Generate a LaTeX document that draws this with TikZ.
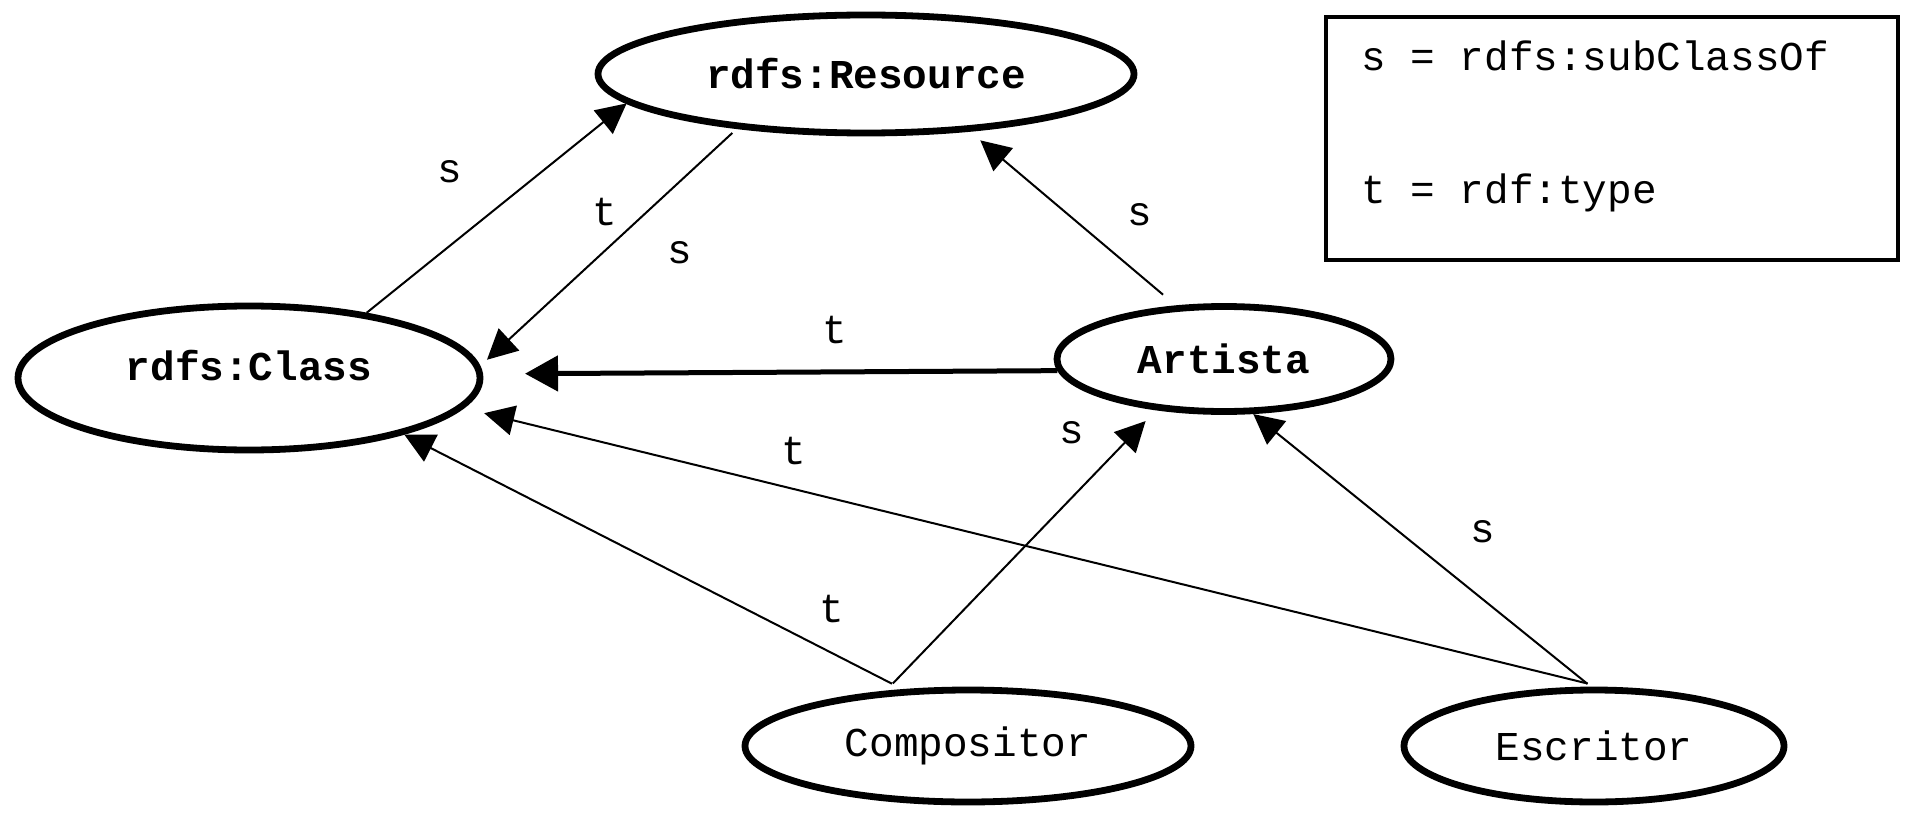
\documentclass[tikz,border=0pt]{standalone}
\usepackage{fontspec}
\setmainfont{Liberation Mono}
\usetikzlibrary{arrows.meta,shapes.geometric}
\begin{document}
\begin{tikzpicture}[x=0.5pt, y=-0.5pt,
  every node/.style={font=\fontsize{20.5}{24}\selectfont},
  boldtext/.style={font=\fontsize{20.5}{24}\selectfont\bfseries},
  oval/.style={ellipse, draw, line width=3.4pt, inner sep=0pt},
  lbl/.style={anchor=base, inner sep=0pt},
  conn/.style={line width=1pt, -{Triangle[length=15pt,width=15pt]}},
  thickconn/.style={line width=2.5pt, -{Triangle[length=16.5pt,width=17.5pt]}},
]
\useasboundingbox (0,0) rectangle (1906,813);

% nodes
\node[oval, boldtext, minimum width=268pt, minimum height=59pt] (res) at (866,74) {rdfs:Resource};
\node[oval, boldtext, minimum width=231pt, minimum height=72pt, text height=15pt, text depth=13pt] (cls) at (249,378) {rdfs:Class};
\node[oval, boldtext, minimum width=167pt, minimum height=52.5pt] (art) at (1224,359) {Artista};
\node[oval, minimum width=223pt, minimum height=56pt] (comp) at (968,746) {Compositor};
\node[oval, minimum width=190pt, minimum height=56pt] (esc) at (1594,746) {Escritor};

% legend
\node[draw, line width=2.25pt, minimum width=286pt, minimum height=121.5pt, inner sep=0pt, outer sep=0pt] (legend) at (1612,138.5) {};
\node[anchor=base west, inner sep=0pt] (legs) at (1361,71) {s = rdfs:subClassOf};
\node[anchor=base west, inner sep=0pt] (legt) at (1361,203) {t = rdf:type};

% connectors
\draw[conn] (cls.29) -- (res.187.5);
\draw[conn, shorten <=3pt, shorten >=4.5pt] (res.203.7) -- (cls.3.7);
\draw[conn, shorten <=8.3pt, shorten >=6.75pt] (art.132.3) -- (res.331.7);
\draw[thickconn, shorten >=21pt] (art.184.1) -- (cls.1.5);
\draw[conn, shorten <=6pt] (comp.139.1) -- (cls.340.8);
\draw[conn, shorten <=5pt, shorten >=7.5pt] (comp.146.5) -- (art.217.5);
\draw[conn, shorten <=6.5pt, shorten >=10.5pt] (esc.84.6) -- (cls.352.3);
\draw[conn, shorten <=2.25pt] (esc.93.4) -- (art.298.6);

% labels
\node[lbl] (ls1) at (450,183) {s};
\node[lbl] (lt2) at (605,225) {t};
\node[lbl] (ls2) at (680,263) {s};
\node[lbl] (ls3) at (1140,225) {s};
\node[lbl] (lt4) at (835,343) {t};
\node[lbl] (lt5) at (832,622) {t};
\node[lbl] (ls6) at (1072,443) {s};
\node[lbl] (lt7) at (794,464) {t};
\node[lbl] (ls8) at (1483,542) {s};
\end{tikzpicture}
\end{document}
